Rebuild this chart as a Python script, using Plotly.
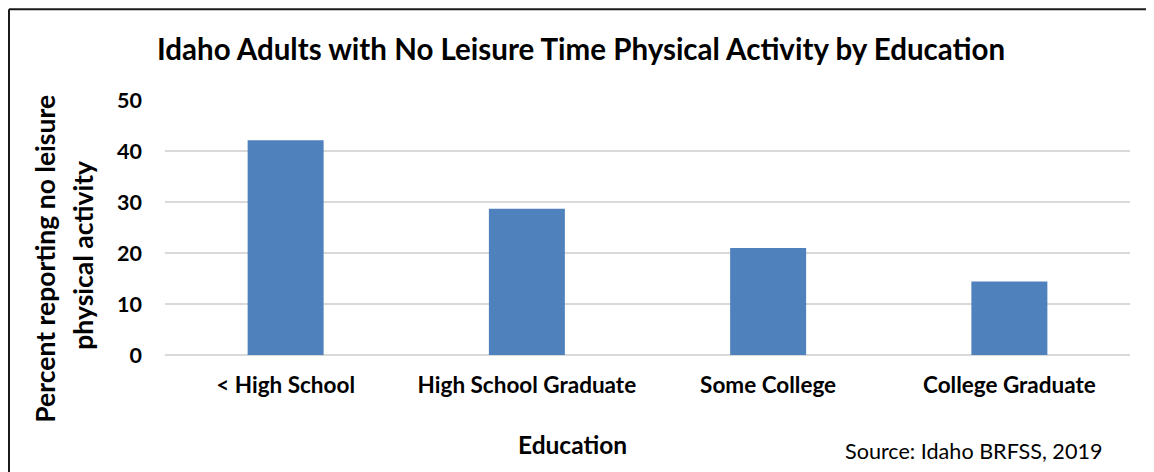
import plotly.graph_objects as go

categories = ["< High School", "High School Graduate", "Some College", "College Graduate"]
values = [42.1, 28.7, 21.0, 14.4]
y_ticks = [0, 10, 20, 30, 40, 50]

# page has an 8px body margin; work in page pixels and convert
OFF = 8
W, H = 1154 - OFF, 472 - OFF
L, R, T, B = 165 - OFF, 24, 100 - OFF, 116.5
PW = W - L - R
PH = H - T - B

def px(x):  # page pixel x -> paper
    return (x - OFF - L) / PW

def py(y):  # page pixel y -> paper
    return (H - B - (y - OFF)) / PH

FONT = "Lato"

fig = go.Figure(go.Bar(
    x=categories, y=values, width=0.315,
    marker=dict(color="#4F81BD", line=dict(width=0)),
))

fig.update_layout(
    width=W, height=H,
    margin=dict(l=L, r=R, t=T, b=B),
    paper_bgcolor="white", plot_bgcolor="white",
    showlegend=False,
    font=dict(family=FONT, color="black"),
    xaxis=dict(showgrid=False, showline=False, ticks="", ticklabelstandoff=14,
               tickfont=dict(family=FONT, size=22.5, color="black", weight="bold")),
    yaxis=dict(range=[0, 50], tickvals=y_ticks, showgrid=True,
               gridcolor="#d9d9d9", gridwidth=1.5, zeroline=True,
               zerolinecolor="#d9d9d9", zerolinewidth=1.5, showline=False,
               ticks="", ticklabelstandoff=22,
               tickfont=dict(family=FONT, size=21.5, color="black", weight="bold")),
)

annotations = [
    dict(text="<b>Idaho Adults with No Leisure Time Physical Activity by Education</b>",
         x=px(581), y=py(48), font=dict(size=29.5, family=FONT, color="black")),
    dict(text="<b>Percent reporting no leisure</b>", textangle=-90,
         x=px(45), y=py(259), font=dict(size=26.5, family=FONT, color="black")),
    dict(text="<b>physical activity</b>", textangle=-90,
         x=px(83), y=py(256), font=dict(size=26.5, family=FONT, color="black")),
    dict(text="<b>Education</b>",
         x=px(572), y=py(445), font=dict(size=24.5, family=FONT, color="black")),
    dict(text="Source: Idaho BRFSS, 2019",
         x=px(973), y=py(452), font=dict(size=21.6, family=FONT, color="black")),
]
for a in annotations:
    a.update(xref="paper", yref="paper", showarrow=False, xanchor="center", yanchor="middle")
fig.update_layout(annotations=annotations)

fig.update_layout(shapes=[
    dict(type="line", xref="paper", yref="paper", x0=px(9), x1=px(1160), y0=py(9), y1=py(9),
         line=dict(color="#1a1a1a", width=2)),
    dict(type="line", xref="paper", yref="paper", x0=px(9), x1=px(9), y0=py(9), y1=py(480),
         line=dict(color="#1a1a1a", width=2)),
])

fig.write_html("out.html")
